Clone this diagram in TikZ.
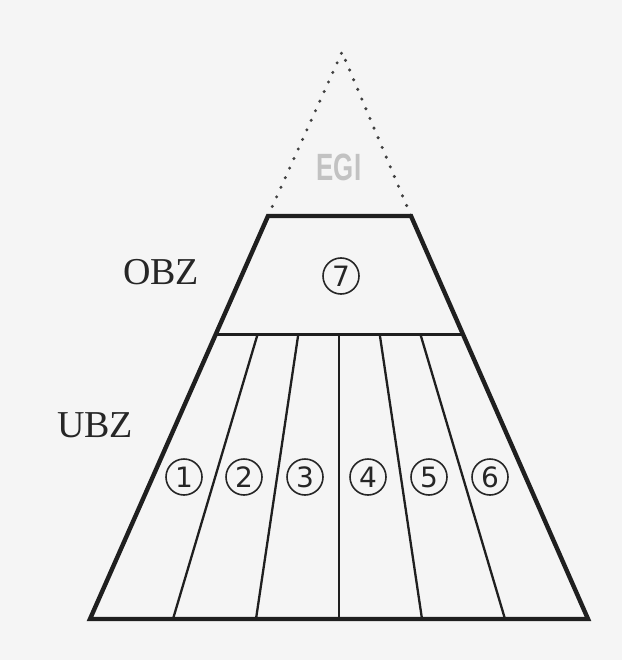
\documentclass[tikz,border=0pt]{standalone}
\usepackage{fontspec}
\setmainfont{Liberation Serif}
\newfontfamily\digitfont{DejaVu Sans}
\newfontfamily\egifont{Liberation Sans}
\usetikzlibrary{calc}
\tikzset{
  outer/.style={line width=4.4pt, line join=miter, draw=black!88},
  divider/.style={line width=2.3pt, draw=black!88},
  midline/.style={line width=3pt, draw=black!88},
  dotline/.style={line width=3.4pt, line cap=round, dash pattern=on 0pt off 10.5pt, draw=black!75},
  numcirc/.style={circle, draw=black!85, line width=1.6pt, minimum size=36pt, inner sep=0pt,
                  font=\digitfont\fontsize{28}{28}\selectfont, text=black!85},
  zonelabel/.style={font=\fontsize{38}{38}\selectfont, text=black!85, inner sep=0pt},
}
\begin{document}
\begin{tikzpicture}[x=1pt, y=-1pt]
\useasboundingbox (0,0) rectangle (622,660);
\fill[black!4] (0,0) rectangle (622,660);
% key points
\coordinate (apex) at (342,52);
\coordinate (TL) at (268,216);
\coordinate (TR) at (411,216);
\coordinate (ML) at (217,334);
\coordinate (MR) at (461,334);
\coordinate (BL) at (90,619);
\coordinate (BR) at (588,619);
% dotted top of the pyramid
\draw[dotline] (TL) -- (apex) -- (TR);
% outer trapezoid
\draw[outer] (TL) -- (TR) -- (BR) -- (BL) -- cycle;
% OBZ / UBZ division
\draw[midline] (ML) -- (MR);
% vertical dividers of the lower zone
\foreach \k in {1,...,5}{
  \coordinate (dt\k) at ($(ML)!\k/6!(MR)$);
  \coordinate (db\k) at ($(BL)!\k/6!(BR)$);
  \draw[divider] (dt\k) -- (db\k);
}
% labels
\node[zonelabel] (obz) at (161,272) {OBZ};
\node[zonelabel] (ubz) at (95,425) {UBZ};
\node[font=\egifont\bfseries\fontsize{38}{38}\selectfont, text=black!24, inner sep=0pt, xscale=0.68] (egi) at (339,167) {EGI};
% numbered circles
\node[numcirc] (c7) at (341,276) {7};
\node[numcirc] (c1) at (184,477) {1};
\node[numcirc] (c2) at (244,477) {2};
\node[numcirc] (c3) at (305,477) {3};
\node[numcirc] (c4) at (368,477) {4};
\node[numcirc] (c5) at (429,477) {5};
\node[numcirc] (c6) at (490,477) {6};
\end{tikzpicture}
\end{document}
